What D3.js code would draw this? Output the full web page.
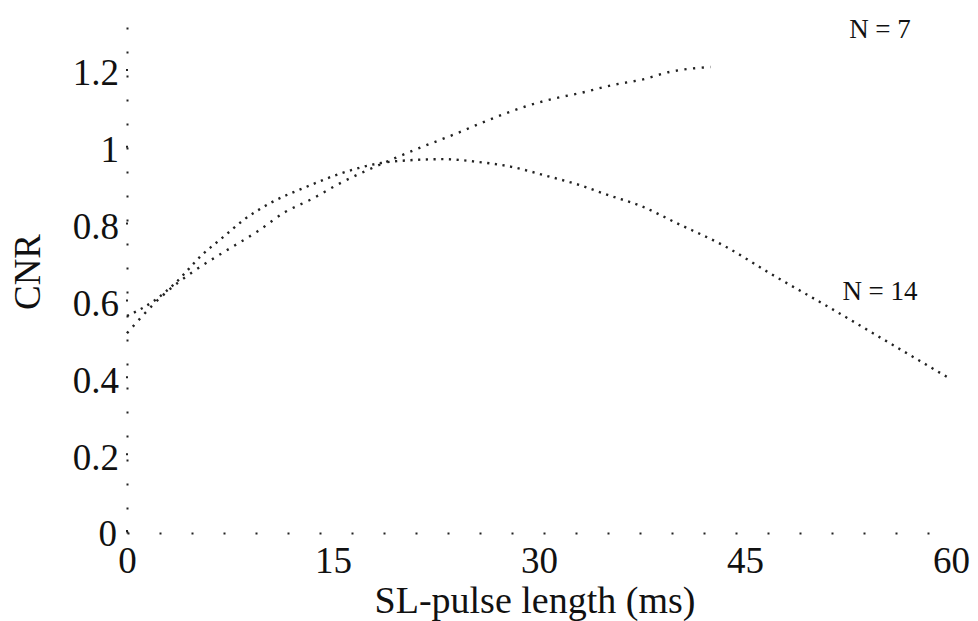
<!DOCTYPE html>
<html>
<head>
<meta charset="utf-8">
<script src="https://cdn.jsdelivr.net/npm/d3@7"></script>
<style>
  html, body { margin: 0; padding: 0; background: #fff; }
  svg { display: block; }
  text { font-family: "Liberation Serif", "DejaVu Serif", serif; fill: #111; }
</style>
</head>
<body>
<svg id="chart" width="978" height="621"></svg>
<script>
// ---- data ----
const xTicks = [0, 15, 30, 45, 60];
const yTicks = [0, 0.2, 0.4, 0.6, 0.8, 1, 1.2];
const yTickLabels = ["0", "0.2", "0.4", "0.6", "0.8", "1", "1.2"];

const n7X = [0, 2.5, 5, 7, 9.5, 11.5, 13.5, 15.5, 18.5, 21.5, 24, 26, 29, 31, 33, 35.5, 37.5, 39.5, 42.5];
const n7Y = [0.52, 0.615, 0.685, 0.73, 0.785, 0.835, 0.87, 0.91, 0.96, 1.005, 1.04, 1.07, 1.11, 1.13, 1.145, 1.167, 1.18, 1.2, 1.213];

const n14X = [0, 2, 3.5, 5.5, 7, 8.5, 10.5, 13, 15.5, 18.5, 20.5, 23, 25.5, 28, 30.5, 33, 35, 37.5, 40, 43.5, 47, 51, 55.5, 60];
const n14Y = [0.565, 0.605, 0.65, 0.725, 0.77, 0.815, 0.86, 0.9, 0.935, 0.963, 0.97, 0.973, 0.966, 0.953, 0.93, 0.905, 0.88, 0.85, 0.807, 0.747, 0.672, 0.59, 0.495, 0.40];

const seriesNames = ["N = 7", "N = 14"];
const xTitle = "SL-pulse length (ms)";
const yTitle = "CNR";

// ---- layout ----
const svg = d3.select("#chart");
const x = d3.scaleLinear().domain([0, 60]).range([127, 951]);
const y = d3.scaleLinear().domain([0, 1.35]).range([533, 14.3]);

// axes (sparse dotted, as in the scanned figure)
const yAxis = d3.axisLeft(y).tickValues(yTicks)
  .tickFormat((d, i) => yTickLabels[i]).tickSize(0).tickPadding(8);
const gy = svg.append("g").attr("transform", `translate(${x(0)},0)`).call(yAxis);
gy.select(".domain").attr("stroke", "#222").attr("stroke-width", 2)
  .attr("stroke-dasharray", "2,22");
gy.selectAll(".tick text").attr("font-size", 37)
  .attr("font-family", "Liberation Serif, serif").attr("fill", "#111")
  .attr("dy", "0.35em")
  .attr("x", d => d === 0 ? -10 : -8);

const xAxis = d3.axisBottom(x).tickValues(xTicks).tickSize(0).tickPadding(14);
const gx = svg.append("g").attr("transform", `translate(0,${y(0)})`).call(xAxis);
gx.select(".domain").attr("stroke", "#222").attr("stroke-width", 2)
  .attr("stroke-dasharray", "2,30");
gx.selectAll(".tick text").attr("font-size", 37)
  .attr("font-family", "Liberation Serif, serif").attr("fill", "#111");

// y tick marks (small dashes right of labels)
svg.append("g").selectAll("line").data(yTicks).join("line")
  .attr("x1", x(0)).attr("x2", x(0))
  .attr("y1", d => y(d) - 3).attr("y2", d => y(d) + 3)
  .attr("stroke", "#222").attr("stroke-width", 2).attr("stroke-dasharray", "2,4");

// curves
const line = d3.line().x(d => x(d[0])).y(d => y(d[1])).curve(d3.curveMonotoneX);
const n7 = n7X.map((v, i) => [v, n7Y[i]]);
const n14 = n14X.map((v, i) => [v, n14Y[i]]);

svg.append("path").datum(n7).attr("d", line)
  .attr("fill", "none").attr("stroke", "#222").attr("stroke-width", 2.4)
  .attr("stroke-dasharray", "2.2,6.5");
svg.append("path").datum(n14).attr("d", line)
  .attr("fill", "none").attr("stroke", "#222").attr("stroke-width", 2.4)
  .attr("stroke-dasharray", "2.2,5.5");

// series labels
svg.append("text").attr("x", 880).attr("y", 38).attr("text-anchor", "middle")
  .attr("font-size", 27).text(seriesNames[0]);
svg.append("text").attr("x", 880).attr("y", 300).attr("text-anchor", "middle")
  .attr("font-size", 27).text(seriesNames[1]);

// axis titles
svg.append("text").attr("x", 535).attr("y", 613).attr("text-anchor", "middle")
  .attr("font-size", 38).text(xTitle);
svg.append("text").attr("transform", "translate(40,272) rotate(-90)")
  .attr("text-anchor", "middle").attr("font-size", 37).text(yTitle);
</script>
</body>
</html>
